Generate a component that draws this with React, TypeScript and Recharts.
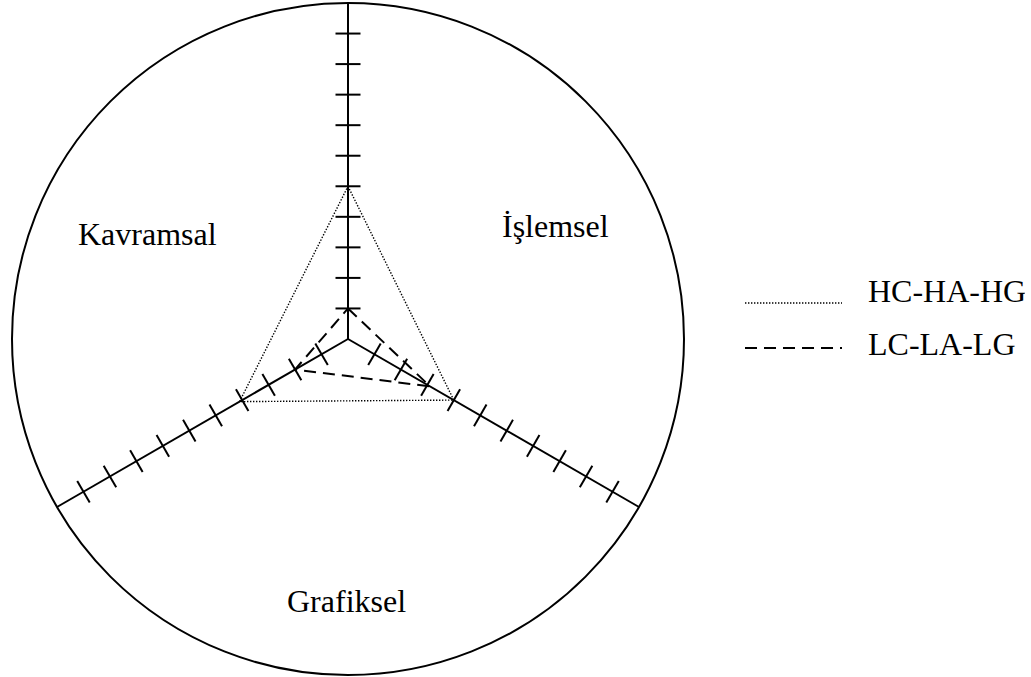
import React from 'react';
import { RadarChart, Radar, PolarGrid, PolarAngleAxis, PolarRadiusAxis, Legend } from 'recharts';

// Axes (clockwise from top)
const categories = ['Üst', 'Sağ', 'Sol'];
const highValues = [5, 4, 4.1];   // HC-HA-HG
const lowValues = [1, 3.1, 2];    // LC-LA-LG
const radiusTicks = [1, 2, 3, 4, 5, 6, 7, 8, 9, 10];
const radiusMax = 10.8;
const regionLabels = ['Kavramsal', 'İşlemsel', 'Grafiksel'];
const seriesNames = ['HC-HA-HG', 'LC-LA-LG'];

const data = categories.map((c, i) => ({ axis: c, high: highValues[i], low: lowValues[i] }));

const W = 1031;
const H = 677;
const CX = 348;
const CY = 339;
const R = 336;
const AXIS_ANGLES = [90, -30, -150];
const FONT = '"Liberation Serif", "Times New Roman", serif';

const TickMarks = (props: any) => {
  const r = props.payload?.coordinate ?? 0;
  const half = 12.5;
  return (
    <g>
      {AXIS_ANGLES.map((a, k) => {
        const t = (a * Math.PI) / 180;
        const px = CX + r * Math.cos(t);
        const py = CY - r * Math.sin(t);
        const nx = Math.sin(t);
        const ny = Math.cos(t);
        return (
          <line
            key={k}
            x1={px - half * nx}
            y1={py - half * ny}
            x2={px + half * nx}
            y2={py + half * ny}
            stroke="#000"
            strokeWidth={2}
          />
        );
      })}
    </g>
  );
};

const LegendContent = () => (
  <svg width={280} height={120}>
    <line x1={0} y1={45} x2={97} y2={45} stroke="#000" strokeWidth={1.4} strokeDasharray="1.4 1.6" />
    <text x={123} y={44} fontFamily={FONT} fontSize={32} fill="#000">{seriesNames[0]}</text>
    <line x1={0} y1={90} x2={97} y2={90} stroke="#000" strokeWidth={2} strokeDasharray="12 7" />
    <text x={123} y={97} fontFamily={FONT} fontSize={32} fill="#000">{seriesNames[1]}</text>
  </svg>
);

export default function App() {
  return (
    <div style={{ position: 'absolute', left: 0, top: 0, width: W, height: H, background: '#fff' }}>
      <RadarChart
        width={W}
        height={H}
        cx={CX}
        cy={CY}
        outerRadius={R}
        startAngle={90}
        endAngle={-270}
        data={data}
        margin={{ top: 0, right: 0, bottom: 0, left: 0 }}
      >
        <PolarGrid gridType="circle" polarRadius={[R]} stroke="#000" strokeWidth={2} />
        <PolarAngleAxis dataKey="axis" tick={false} axisLine={false} tickLine={false} />
        <PolarRadiusAxis
          angle={90}
          domain={[0, radiusMax]}
          ticks={radiusTicks as any}
          axisLine={false}
          tickLine={false}
          tick={<TickMarks />}
        />
        <Radar
          name={seriesNames[0]}
          dataKey="high"
          stroke="#000"
          strokeWidth={1.4}
          strokeDasharray="1.4 1.6"
          fill="none"
          fillOpacity={0}
          dot={false}
          isAnimationActive={false}
        />
        <Radar
          name={seriesNames[1]}
          dataKey="low"
          stroke="#000"
          strokeWidth={2}
          strokeDasharray="12 7"
          fill="none"
          fillOpacity={0}
          dot={false}
          isAnimationActive={false}
        />
        <Legend
          content={<LegendContent />}
          wrapperStyle={{ position: 'absolute', left: 745, top: 258, width: 280, height: 120 }}
        />
      </RadarChart>
      <svg width={W} height={H} style={{ position: 'absolute', left: 0, top: 0, pointerEvents: 'none' }}>
        <text x={78} y={245} fontFamily={FONT} fontSize={32} fill="#000">{regionLabels[0]}</text>
        <text x={502} y={237} fontFamily={FONT} fontSize={32} fill="#000">{regionLabels[1]}</text>
        <text x={287} y={612} fontFamily={FONT} fontSize={32} fill="#000">{regionLabels[2]}</text>
      </svg>
    </div>
  );
}
